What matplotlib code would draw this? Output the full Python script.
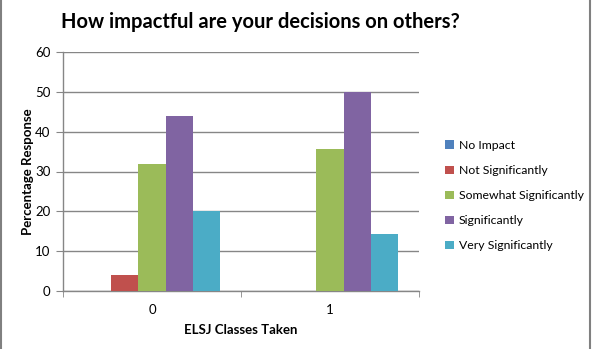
import matplotlib
matplotlib.use("Agg")
import matplotlib.pyplot as plt
from matplotlib.lines import Line2D
import numpy as np

categories = ["0", "1"]
series = ["No Impact", "Not Significantly", "Somewhat Significantly", "Significantly", "Very Significantly"]
no_impact = [0, 0]
not_sig = [4, 0]
somewhat_sig = [32, 35.7]
sig = [44, 50]
very_sig = [20, 14.3]
colors = ["#4F81BD", "#C0504D", "#9BBB59", "#8064A2", "#4BACC6"]

plt.rcParams['font.family'] = ['Lato', 'DejaVu Sans']

fig = plt.figure(figsize=(5.92, 3.49), dpi=100)
ax = fig.add_axes([63/592, 1-291/349, (419-63)/592, (291-52)/349])

x = np.arange(len(categories))
w = 0.152
values = [no_impact, not_sig, somewhat_sig, sig, very_sig]
for i, (name, vals, c) in enumerate(zip(series, values, colors)):
    ax.bar(x + (i - 2) * w, vals, width=w, color=c, label=name, zorder=3)

ax.set_xlim(-0.5, 1.5)
ax.set_ylim(0, 60)
ax.set_yticks(range(0, 61, 10))
ax.set_xticks(x)
ax.set_xticklabels(categories)
ax.set_xticks([-0.5, 0.5, 1.5], minor=True)
ax.tick_params(axis='x', which='major', length=0, labelsize=9.5, pad=9)
ax.tick_params(axis='x', which='minor', length=4, color='#868686', direction='out')
ax.tick_params(axis='y', length=5, color='#868686', labelsize=9.5, pad=4)
ax.grid(axis='y', color='#868686', linewidth=1, zorder=0)
for s in ['top', 'right']:
    ax.spines[s].set_visible(False)
for s in ['left', 'bottom']:
    ax.spines[s].set_color('#868686')
    ax.spines[s].set_linewidth(1)

ax.set_ylabel("Percentage Response", fontsize=9.5, fontweight='bold', labelpad=1)
ax.set_xlabel("ELSJ Classes Taken", fontsize=9.5, fontweight='bold', labelpad=6)

fig.text(260/592, 1-22/349, "How impactful are your decisions on others?", ha='center', va='center',
         fontsize=14.5, fontweight='bold')

leg = ax.legend(loc='upper left', bbox_to_anchor=(434/592, 1-129/349), bbox_transform=fig.transFigure,
                frameon=False, fontsize=8.8, handlelength=0.7, handleheight=0.7,
                handletextpad=0.45, labelspacing=1.15)

for xx in [0.8/592, 589.5/592]:
    fig.add_artist(Line2D([xx, xx], [0, 1], transform=fig.transFigure, color='#808080', linewidth=1.5))

fig.savefig("out.png", dpi=100)
